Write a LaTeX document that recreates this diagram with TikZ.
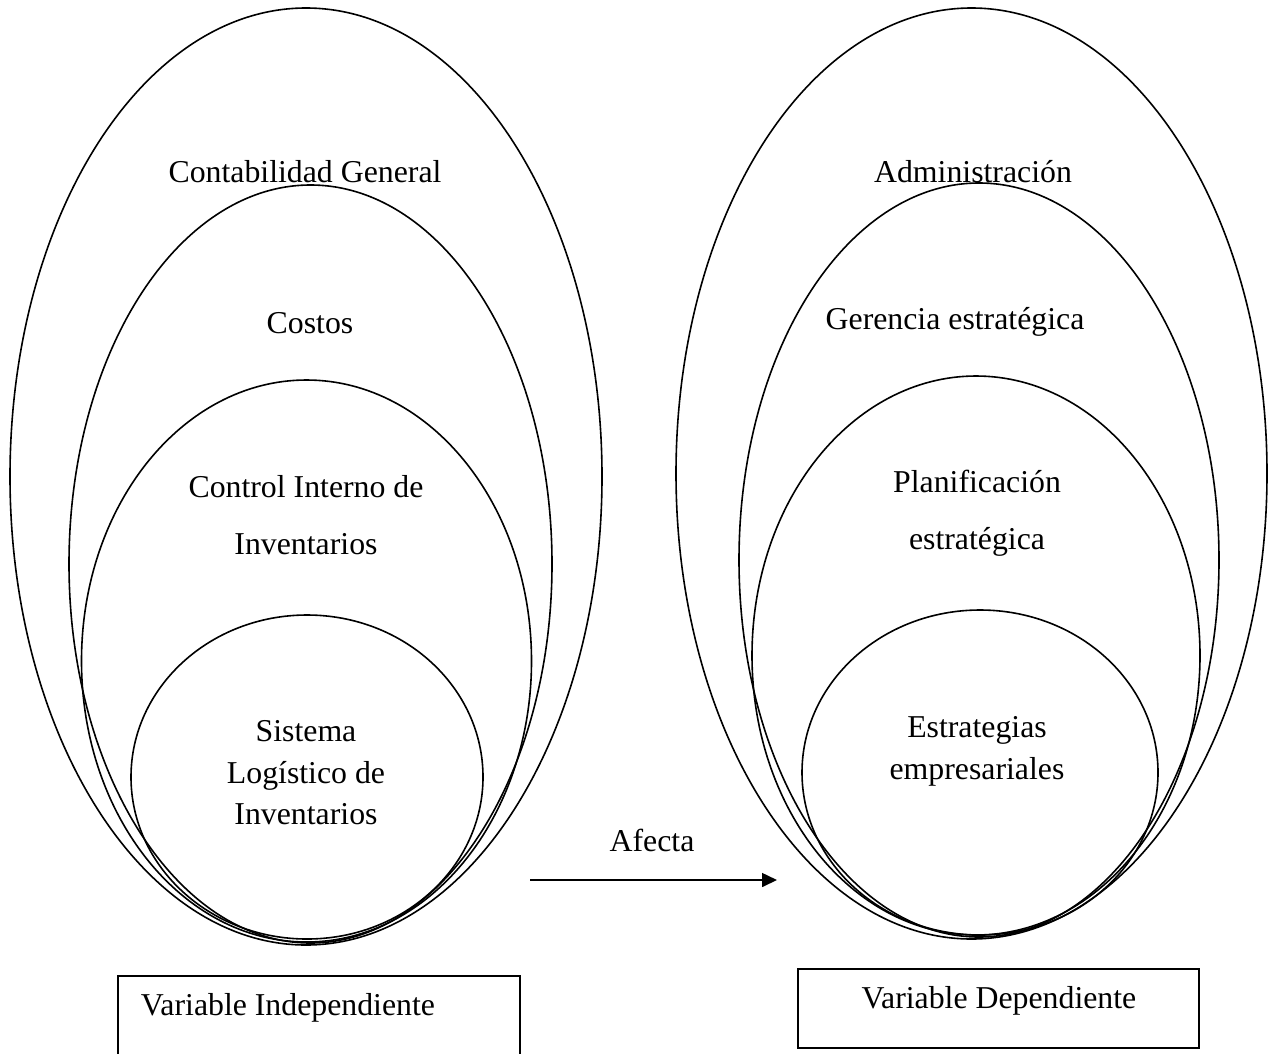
\documentclass[tikz,border=0pt]{standalone}
\usepackage{fontspec}
\setmainfont{Liberation Serif}
\usetikzlibrary{arrows.meta,shapes.geometric}

\newcommand{\lblfont}{\fontsize{31.8pt}{38pt}\selectfont}

\tikzset{
  ring/.style={ellipse, draw, line width=1.6pt, inner sep=0pt},
  lbl/.style={font=\lblfont, anchor=base, inner sep=0pt},
  varbox/.style={draw, line width=1.6pt, rectangle, inner sep=0pt, anchor=north west},
  link/.style={line width=1.6pt, -{Triangle[length=15pt,width=14pt]}}
}

\begin{document}
\begin{tikzpicture}[x=1pt,y=-1pt]
\useasboundingbox (0,0) rectangle (1271,1053);

% independent variable: nested ellipses
\node[ring, minimum width=592pt, minimum height=937pt] (l1) at (306,476.5) {};
\node[ring, minimum width=483pt, minimum height=758pt] (l2) at (310.5,564) {};
\node[ring, minimum width=450pt, minimum height=562pt] (l3) at (306.5,661) {};
\node[ring, minimum width=352pt, minimum height=324pt] (l4) at (307,777) {};

\node[lbl] (t1) at (305,182) {Contabilidad General};
\node[lbl] (t2) at (310,333) {Costos};
\node[lbl] (t3a) at (306,497) {Control Interno de};
\node[lbl] (t3b) at (306,554) {Inventarios};
\node[lbl] (t4a) at (306,741) {Sistema};
\node[lbl] (t4b) at (306,783) {Logístico de};
\node[lbl] (t4c) at (306,824) {Inventarios};

% dependent variable: nested ellipses
\node[ring, minimum width=591pt, minimum height=931pt] (r1) at (971.5,473.5) {};
\node[ring, minimum width=480pt, minimum height=754pt] (r2) at (979,560) {};
\node[ring, minimum width=448pt, minimum height=559pt] (r3) at (976,655.5) {};
\node[ring, minimum width=356pt, minimum height=325pt] (r4) at (980,772.5) {};

\node[lbl] (s1) at (973,182) {Administración};
\node[lbl] (s2) at (955,329) {Gerencia estratégica};
\node[lbl] (s3a) at (977,492) {Planificación};
\node[lbl] (s3b) at (977,549) {estratégica};
\node[lbl] (s4a) at (977,737) {Estrategias};
\node[lbl] (s4b) at (977,779) {empresariales};

% relation between both variables
\coordinate (arrS) at (530,880);
\coordinate (arrE) at (777,880);
\draw[link] (arrS) -- (arrE);
\node[lbl] (afecta) at (652,851) {Afecta};

% variable captions
\node[varbox, minimum width=402pt, minimum height=95pt] (vi) at (117,975) {};
\node[lbl] (vit) at (288,1015) {Variable Independiente};
\node[varbox, minimum width=401pt, minimum height=79pt] (vd) at (797,968) {};
\node[lbl] (vdt) at (999,1008) {Variable Dependiente};
\end{tikzpicture}
\end{document}
